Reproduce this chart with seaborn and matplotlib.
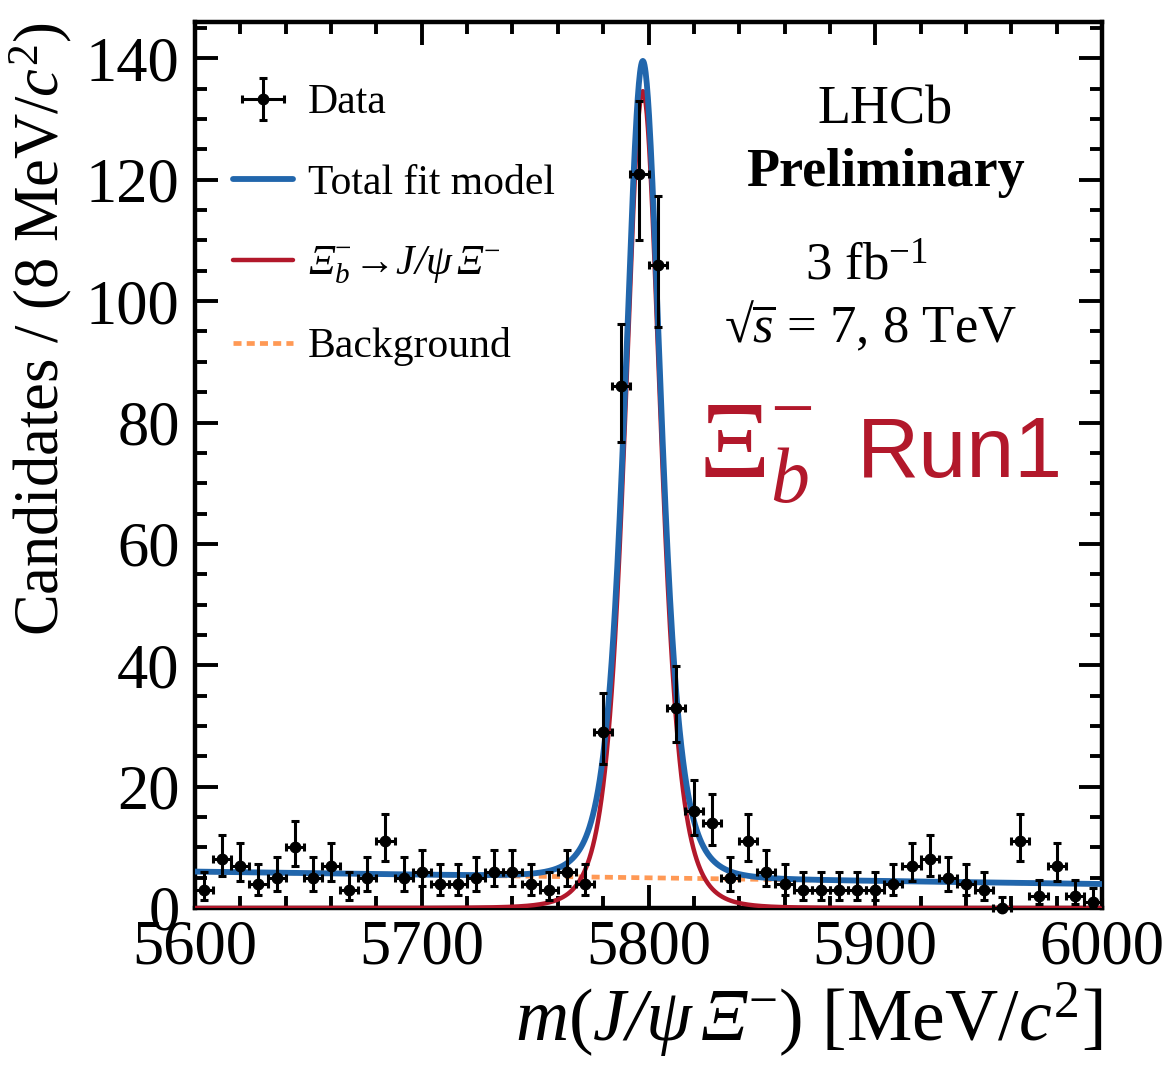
import numpy as np
import matplotlib
matplotlib.use('Agg')
import matplotlib.pyplot as plt
import seaborn as sns
from matplotlib.ticker import MultipleLocator

# binning of the mass spectrum
mass_lo, mass_hi, bin_width = 5600, 6000, 8
# candidates per bin
counts = [3, 8, 7, 4, 5, 10, 5, 7, 3, 5, 11, 5, 6, 4, 4, 5, 6, 6, 4, 3, 6, 4,
          29, 86, 121, 106, 33, 16, 14, 5, 11, 6, 4, 3, 3, 3, 3, 3, 4, 7, 8,
          5, 4, 3, 0, 11, 2, 7, 2, 1]
# fit model parameters (signal: Student-t like peak, background: linear)
sig_mean = 5797.5
sig_width = 8.2
sig_nu = 4.0
sig_peak = 134.6
bg_left = 6.0
bg_right = 3.95

# mathtext: rm is italic here, sf is upright serif
legend_labels = ['Data', 'Total fit model',
                 r'$\Xi_b^{\mathsf{-}}\!\rightarrow\! J/\psi\,\Xi^{\mathsf{-}}$',
                 'Background']

c_blue = '#2166AC'
c_red = '#B2182B'
c_orange = '#FF9955'

sns.set_theme(style='ticks')
plt.rcParams['font.family'] = ['Liberation Serif', 'DejaVu Serif']
plt.rcParams.update({
    'text.color': 'black', 'axes.labelcolor': 'black',
    'xtick.color': 'black', 'ytick.color': 'black', 'axes.edgecolor': 'black',
    'mathtext.fontset': 'custom',
    'mathtext.rm': 'Liberation Serif:italic',
    'mathtext.it': 'Liberation Serif:italic',
    'mathtext.sf': 'Liberation Serif',
    'mathtext.bf': 'Liberation Serif:bold',
    'mathtext.fallback': 'stix',
})

centres = np.arange(mass_lo + bin_width / 2, mass_hi, bin_width)
n = np.array(counts, dtype=float)
# Gehrels approximation of Poisson 68% intervals
err_hi = np.sqrt(n + 0.75) + 1.0
nn = np.maximum(n, 1)
err_lo = np.where(n > 0, n - n * (1 - 1 / (9 * nn) - 1 / (3 * np.sqrt(nn))) ** 3, 0)

xs = np.linspace(mass_lo, mass_hi, 1601)
sig = sig_peak * (1 + ((xs - sig_mean) / sig_width) ** 2 / sig_nu) ** (-(sig_nu + 1) / 2)
bg = bg_left + (bg_right - bg_left) * (xs - mass_lo) / (mass_hi - mass_lo)
tot = sig + bg

fig = plt.figure(figsize=(11.73, 10.66), dpi=100)
ax = fig.add_axes([195 / 1173, 1 - 908 / 1066, 907 / 1173, 886 / 1066])

sns.lineplot(x=xs, y=bg, ax=ax, color=c_orange, lw=3.4, linestyle=(0, (1.7, 1.1)),
             label=legend_labels[3], zorder=2)
sns.lineplot(x=xs, y=sig, ax=ax, color=c_red, lw=3.2, label=legend_labels[2], zorder=3)
sns.lineplot(x=xs, y=tot, ax=ax, color=c_blue, lw=4.2, label=legend_labels[1], zorder=4)
ax.errorbar(centres, n, xerr=bin_width / 2, yerr=[err_lo, err_hi], fmt='o',
            color='black', ms=7.5, elinewidth=2.2, capsize=3, capthick=2.2,
            zorder=5, clip_on=False, label=legend_labels[0])

ax.set_xlim(mass_lo, mass_hi)
ax.set_ylim(0, 146)
ax.xaxis.set_major_locator(MultipleLocator(100))
ax.xaxis.set_minor_locator(MultipleLocator(20))
ax.yaxis.set_major_locator(MultipleLocator(20))
ax.yaxis.set_minor_locator(MultipleLocator(5))
ax.tick_params(which='both', direction='in', top=True, right=True, width=2.8, color='black')
ax.tick_params(which='major', length=16.5, labelsize=45)
ax.tick_params(which='minor', length=8.5)
ax.tick_params(axis='x', which='major', pad=8)
ax.tick_params(axis='y', which='major', pad=11)
for s in ax.spines.values():
    s.set_linewidth(3.2)
    s.set_color('black')

ax.set_xlabel(r'$m\mathsf{(}J/\psi\,\Xi^{\mathsf{-}}\mathsf{)}$ [MeV/$c^{\mathsf{2}}$]',
              fontsize=53, loc='right')
ax.set_ylabel(r'Candidates / (8 MeV/$c^{\mathsf{2}}$)', fontsize=45, loc='top')
ax.xaxis.set_label_coords(1.0, -0.082)
ax.yaxis.set_label_coords(-0.133, 1.0)

handles, labels = ax.get_legend_handles_labels()
order = [labels.index(l) for l in legend_labels]
ax.legend([handles[i] for i in order], [labels[i] for i in order],
          loc='upper left', bbox_to_anchor=(0.023, 0.949), frameon=False,
          fontsize=30, handlelength=1.45, handletextpad=0.35, labelspacing=1.0,
          borderaxespad=0)

def fx(px):
    return (px - 195) / 907

def fy(py):
    return (908 - py) / 886

tr = ax.transAxes
ax.text(fx(885), fy(124), 'LHCb', ha='center', va='baseline', fontsize=39, transform=tr)
ax.text(fx(885), fy(186), 'Preliminary', ha='center', va='baseline', fontsize=39,
        fontweight='bold', transform=tr)
ax.text(fx(866), fy(280), r'3 fb$^{\mathsf{-1}}$', ha='center', va='baseline',
        fontsize=38, transform=tr)
ax.text(fx(871), fy(342), r'√$\overline{s}$ = 7, 8 TeV', ha='center', va='baseline',
        fontsize=38, transform=tr)
ax.text(fx(698), fy(477), r'$\mathsf{\Xi}_b^{\mathsf{-}}$', ha='left', va='baseline',
        fontsize=80, color=c_red, transform=tr)
ax.text(fx(857), fy(477), 'Run1', ha='left', va='baseline', fontsize=62,
        color=c_red, family='Liberation Sans', transform=tr)

fig.savefig('out.png', dpi=100)
